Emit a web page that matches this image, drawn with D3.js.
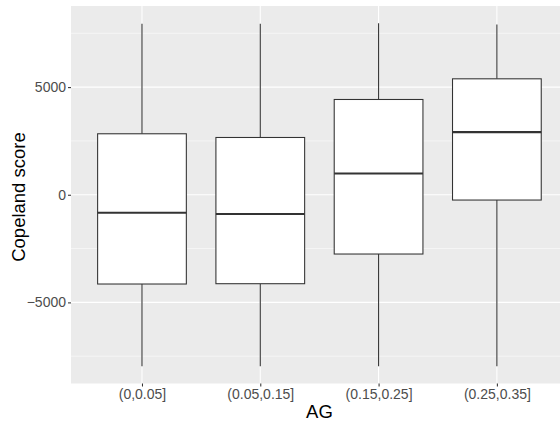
<!DOCTYPE html>
<html><head><meta charset="utf-8">
<script src="https://cdn.jsdelivr.net/npm/d3@7"></script>
<style>body{margin:0;background:#fff}svg{display:block}text{font-family:"Liberation Sans",Arial,sans-serif}</style>
</head><body>
<svg id="c" width="560" height="423"></svg>
<script>
const categories = ["(0,0.05]", "(0.05,0.15]", "(0.15,0.25]", "(0.25,0.35]"];
const whiskerLow = [-7970, -7970, -7970, -7960];
const q1 = [-4146, -4132, -2753, -246];
const median = [-836, -896, 989, 2911];
const q3 = [2832, 2660, 4425, 5385];
const whiskerHigh = [7940, 7945, 7970, 7906];
const yTicks = [-5000, 0, 5000];
const yMinor = [-7500, -2500, 2500, 7500];

const svg = d3.select("#c");
const L = 71, T = 6, B = 383.5;
const unit = 118.3;
const R = L + unit * 4.2;

const lo = d3.min(whiskerLow), hi = d3.max(whiskerHigh);
const pad = (hi - lo) * 0.05;
const y = d3.scaleLinear().domain([lo - pad, hi + pad]).range([B, T]);
const x = d3.scalePoint().domain(categories).range([L + 0.6 * unit, L + 3.6 * unit]).padding(0);
const cx = d => x(d);
const bw = 0.75 * unit;

svg.append("rect").attr("x", L).attr("y", T).attr("width", R - L).attr("height", B - T).attr("fill", "#EBEBEB");

svg.selectAll(".ymin").data(yMinor).join("line")
  .attr("x1", L).attr("x2", R).attr("y1", d => y(d)).attr("y2", d => y(d))
  .attr("stroke", "#fff").attr("stroke-width", 0.53);
svg.selectAll(".ymaj").data(yTicks).join("line")
  .attr("x1", L).attr("x2", R).attr("y1", d => y(d)).attr("y2", d => y(d))
  .attr("stroke", "#fff").attr("stroke-width", 1.07);
svg.selectAll(".xmaj").data(categories).join("line")
  .attr("x1", d => cx(d)).attr("x2", d => cx(d)).attr("y1", T).attr("y2", B)
  .attr("stroke", "#fff").attr("stroke-width", 1.07);

const data = categories.map((c, i) => ({c, lo: whiskerLow[i], q1: q1[i], med: median[i], q3: q3[i], hi: whiskerHigh[i]}));
const g = svg.append("g");
g.selectAll(".wu").data(data).join("line")
  .attr("x1", d => cx(d.c)).attr("x2", d => cx(d.c)).attr("y1", d => y(d.hi)).attr("y2", d => y(d.q3))
  .attr("stroke", "#333").attr("stroke-width", 1.07);
g.selectAll(".wl").data(data).join("line")
  .attr("x1", d => cx(d.c)).attr("x2", d => cx(d.c)).attr("y1", d => y(d.q1)).attr("y2", d => y(d.lo))
  .attr("stroke", "#333").attr("stroke-width", 1.07);
g.selectAll(".box").data(data).join("rect")
  .attr("x", d => cx(d.c) - bw / 2).attr("width", bw)
  .attr("y", d => y(d.q3)).attr("height", d => y(d.q1) - y(d.q3))
  .attr("fill", "#fff").attr("stroke", "#333").attr("stroke-width", 1.07);
g.selectAll(".med").data(data).join("line")
  .attr("x1", d => cx(d.c) - bw / 2).attr("x2", d => cx(d.c) + bw / 2)
  .attr("y1", d => y(d.med)).attr("y2", d => y(d.med))
  .attr("stroke", "#333").attr("stroke-width", 2.13);

const yAxis = svg.append("g").attr("transform", `translate(${L},0)`)
  .call(d3.axisLeft(y).tickValues(yTicks).tickSize(3).tickPadding(2).tickFormat(d3.format("d")));
yAxis.select(".domain").remove();
yAxis.selectAll("line").attr("stroke", "#333").attr("stroke-width", 1.07);
yAxis.selectAll("text").attr("fill", "#4D4D4D").style("font-size", "14px").attr("font-family", null);

const xAxis = svg.append("g").attr("transform", `translate(0,${B})`)
  .call(d3.axisBottom(x).tickSize(3).tickPadding(3));
xAxis.select(".domain").remove();
xAxis.selectAll("line").attr("stroke", "#333").attr("stroke-width", 1.07);
xAxis.selectAll("text").attr("fill", "#4D4D4D").style("font-size", "14px").attr("font-family", null);

svg.append("text").attr("x", (L + R) / 2).attr("y", 418).attr("text-anchor", "middle")
  .style("font-size", "18.5px").attr("fill", "#000").text("AG");
svg.append("text").attr("transform", `translate(25,197) rotate(-90)`).attr("text-anchor", "middle")
  .style("font-size", "18.5px").attr("fill", "#000").text("Copeland score");
</script>
</body></html>
